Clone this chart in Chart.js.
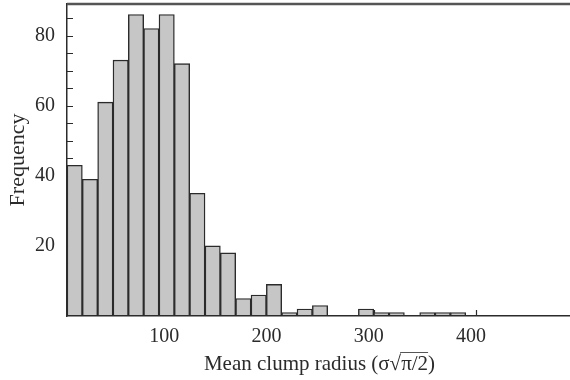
<!DOCTYPE html>
<html>
<head>
<meta charset="utf-8">
<script src="https://cdn.jsdelivr.net/npm/chart.js@4.4.1/dist/chart.umd.min.js"></script>
<style>
  html, body { margin: 0; padding: 0; background: #fff; }
  #wrap { width: 570px; height: 380px; }
</style>
</head>
<body>
<div id="wrap"><canvas id="hist"></canvas></div>
<script>
// histogram of mean clump radius, bins 15 wide
const binStarts = [0, 15, 30, 45, 60, 75, 90, 105, 120, 135, 150, 165, 180,
                   195, 210, 225, 240, 255, 270, 285, 300, 315, 330, 345, 360, 375];
const frequency = [43, 39, 61, 73, 86, 82, 86, 72, 35, 20, 18, 5, 6,
                   9, 1, 2, 3, 0, 0, 2, 1, 1, 0, 1, 1, 1];
const binWidth = 15;
const xTickLabels = [100, 200, 300, 400];
const yTickLabels = [20, 40, 60, 80];

const serif = "'Liberation Serif', 'Times New Roman', serif";
const ink = '#2b2b2b';

// empty bins are left out so no border line is drawn on the axis
const points = binStarts.map((s, i) => ({ x: s + binWidth / 2, y: frequency[i] > 0 ? frequency[i] : null }));

// inward tick marks, drawn under the bars like in the original
const inwardTicks = {
    id: 'inwardTicks',
    beforeDatasetsDraw(chart) {
        const { ctx, chartArea, scales } = chart;
        ctx.save();
        ctx.strokeStyle = ink;
        ctx.lineWidth = 1.2;
        ctx.beginPath();
        for (let v = 5; v < scales.y.max; v += 5) {
            const py = Math.round(scales.y.getPixelForValue(v)) + 0.5;
            ctx.moveTo(chartArea.left, py);
            ctx.lineTo(chartArea.left + 6, py);
        }
        xTickLabels.forEach(v => {
            const px = Math.round(scales.x.getPixelForValue(v)) + 0.5;
            ctx.moveTo(px, chartArea.bottom);
            ctx.lineTo(px, chartArea.bottom - 6);
        });
        ctx.stroke();
        ctx.restore();
    }
};

// top frame line and the x title with its radical bar
const frameAndTitle = {
    id: 'frameAndTitle',
    afterDraw(chart) {
        const { ctx, chartArea } = chart;
        ctx.save();
        ctx.strokeStyle = '#555';
        ctx.lineWidth = 2.5;
        ctx.beginPath();
        ctx.moveTo(chartArea.left, chartArea.top);
        ctx.lineTo(chartArea.right, chartArea.top);
        ctx.stroke();

        const pre = 'Mean clump radius (\u03c3\u221a';
        const rad = '\u03c0/2';
        const post = ')';
        ctx.font = '21px ' + serif;
        ctx.fillStyle = ink;
        ctx.textBaseline = 'alphabetic';
        const w1 = ctx.measureText(pre).width;
        const w2 = ctx.measureText(rad).width;
        const w3 = ctx.measureText(post).width;
        const cx = (chartArea.left + chartArea.right) / 2 + 1;
        const x0 = cx - (w1 + w2 + w3) / 2;
        const base = 370;
        ctx.textAlign = 'left';
        ctx.fillText(pre, x0, base);
        ctx.fillText(rad, x0 + w1, base);
        ctx.fillText(post, x0 + w1 + w2, base);
        ctx.lineWidth = 1;
        ctx.beginPath();
        ctx.moveTo(x0 + w1 - 1, base - 17.5);
        ctx.lineTo(x0 + w1 + w2, base - 17.5);
        ctx.stroke();
        ctx.restore();
    }
};

new Chart(document.getElementById('hist'), {
    type: 'bar',
    data: {
        datasets: [{
            label: 'Frequency',
            data: points,
            backgroundColor: '#c6c6c6',
            borderColor: ink,
            borderWidth: 1.4,
            borderSkipped: false,
            barPercentage: 1,
            categoryPercentage: 1
        }]
    },
    plugins: [inwardTicks, frameAndTitle],
    options: {
        responsive: true,
        maintainAspectRatio: false,
        animation: false,
        layout: { padding: { top: 4, right: 0, bottom: 0, left: 0 } },
        plugins: { legend: { display: false }, tooltip: { enabled: false } },
        scales: {
            x: {
                type: 'linear',
                offset: false,
                min: 0,
                max: 492,
                // only the labelled ticks; autoskip dropped them otherwise
                afterBuildTicks: s => { s.ticks = xTickLabels.map(v => ({ value: v })); },
                afterFit: s => { s.height = 64; s.paddingLeft = 0; s.paddingRight = 0; },
                grid: { display: false, drawTicks: false },
                border: { display: true, color: ink, width: 1.5 },
                ticks: {
                    autoSkip: false,
                    maxRotation: 0,
                    padding: 9,
                    labelOffset: -5,
                    color: ink,
                    font: { family: serif, size: 20 }
                }
            },
            y: {
                min: 0,
                max: 89,
                afterBuildTicks: s => { s.ticks = yTickLabels.map(v => ({ value: v })); },
                afterFit: s => { s.width = 67; s.paddingTop = 0; s.paddingBottom = 0; },
                grid: { display: false, drawTicks: false },
                border: { display: true, color: ink, width: 1.5 },
                title: {
                    display: true,
                    text: 'Frequency',
                    color: ink,
                    font: { family: serif, size: 22 },
                    padding: { top: 5, bottom: 0 }
                },
                ticks: {
                    autoSkip: false,
                    padding: 12,
                    color: ink,
                    font: { family: serif, size: 20 }
                }
            }
        }
    }
});
</script>
</body>
</html>
